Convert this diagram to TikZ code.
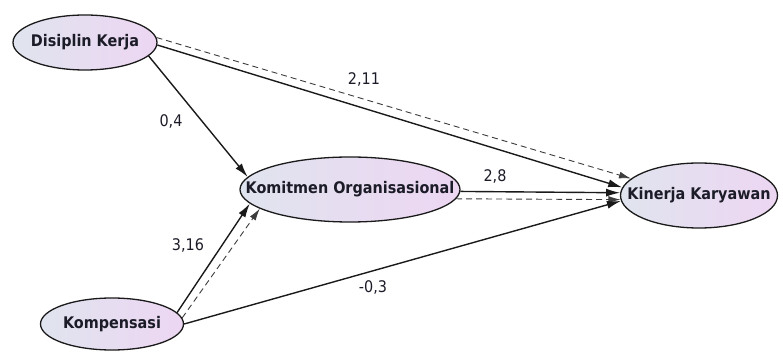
\documentclass[tikz,border=0pt]{standalone}
\usepackage{fontspec}
\setmainfont{DejaVu Sans}
\newfontfamily\condfont{DejaVu Sans Condensed}
\usetikzlibrary{arrows.meta,shapes.geometric}
\definecolor{fillL}{HTML}{E0E4EF}
\definecolor{fillR}{HTML}{EDD6F2}
\definecolor{edgeC}{HTML}{1A1A1A}
\definecolor{txtC}{HTML}{1C1C28}
\tikzset{
  latent/.style={ellipse, draw=edgeC, line width=1.3pt, left color=fillL, right color=fillR,
    inner xsep=-40pt, inner ysep=0pt, font=\condfont\fontsize{16}{18}\selectfont\bfseries, text=txtC},
  pathline/.style={line width=1.4pt, draw=edgeC, -{Latex[length=14pt,width=8pt]}},
  indline/.style={line width=0.9pt, draw=edgeC!85, dash pattern=on 6pt off 4pt, -{Latex[length=12pt,width=7pt]}},
  coef/.style={font=\condfont\fontsize{16}{18}\selectfont, text=txtC, inner sep=1pt}
}
\begin{document}
\begin{tikzpicture}[x=1pt,y=-1pt]
\useasboundingbox (0,0) rectangle (783,352);
\node[latent, minimum width=144pt, minimum height=55pt] (dk) at (85,42.5) {Disiplin Kerja};
\node[latent, minimum width=220pt, minimum height=65pt] (ko) at (350,189.5) {Komitmen Organisasional};
\node[latent, minimum width=157pt, minimum height=65pt] (kk) at (699,195.5) {Kinerja Karyawan};
\node[latent, minimum width=143pt, minimum height=52pt] (kp) at (112,324) {Kompensasi};

\draw[pathline] (dk.-12.2) -- (ko.173.6);
\draw[pathline] (dk.-2) -- (kk.174.6);
\draw[indline] (dk.4.3) -- (kk.166.7);
\draw[pathline] (ko.-1.8) -- (kk.178.2);
\draw[indline] (ko.-5.6) -- (kk.183.3);
\draw[pathline] (kp.10.8) -- (ko.188.8);
\draw[indline] (kp.5.9) -- (ko.192.6);
\draw[pathline] (kp.0.8) -- (kk.184.5);

\node[coef] (c1) at (171,121) {0,4};
\node[coef] (c2) at (364,79) {2,11};
\node[coef] (c3) at (495,176) {2,8};
\node[coef] (c4) at (188,245) {3,16};
\node[coef] (c5) at (373,287) {-0,3};
\end{tikzpicture}
\end{document}
